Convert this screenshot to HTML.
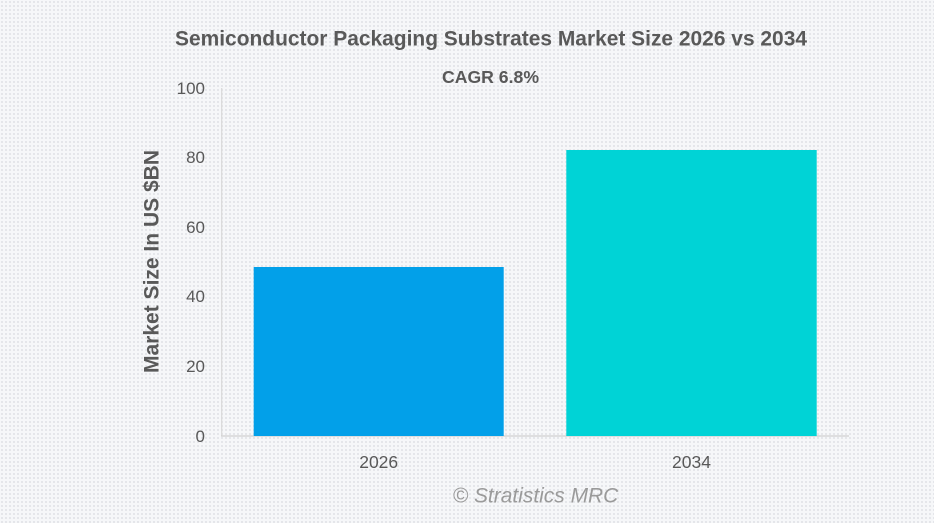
<!DOCTYPE html>
<html>
<head>
<meta charset="utf-8">
<style>
  html, body { margin: 0; padding: 0; }
  body {
    width: 934px; height: 523px; overflow: hidden;
    background-color: #f6f7f9;
    background-image: radial-gradient(circle at 2px 2px, #e3e4e8 0.9px, rgba(0,0,0,0) 1.3px);
    background-size: 4px 4px;
    font-family: "Liberation Sans", Arial, sans-serif;
  }
  svg { position: absolute; left: 0; top: 0; }
</style>
</head>
<body>
<svg width="934" height="523" viewBox="0 0 934 523" xmlns="http://www.w3.org/2000/svg">
  <!-- Title -->
  <text x="491" y="45.5" text-anchor="middle" font-family="Liberation Sans, Arial, sans-serif" font-weight="bold" font-size="21" fill="#595959" textLength="632" lengthAdjust="spacingAndGlyphs">Semiconductor Packaging Substrates Market Size 2026 vs 2034</text>
  <!-- CAGR -->
  <text x="490.5" y="83" text-anchor="middle" font-family="Liberation Sans, Arial, sans-serif" font-weight="bold" font-size="17.5" fill="#595959" textLength="97" lengthAdjust="spacingAndGlyphs">CAGR 6.8%</text>

  <!-- Axes -->
  <line x1="221.7" y1="88" x2="221.7" y2="436" stroke="#d9d9d9" stroke-width="1.2"/>
  <line x1="221" y1="436" x2="849" y2="436" stroke="#d0d0d0" stroke-width="1.2"/>

  <!-- Y tick labels -->
  <g font-family="Liberation Sans, Arial, sans-serif" font-size="17" fill="#595959" text-anchor="end">
    <text x="205" y="94">100</text>
    <text x="205" y="163">80</text>
    <text x="205" y="233">60</text>
    <text x="205" y="302">40</text>
    <text x="205" y="372">20</text>
    <text x="205" y="442">0</text>
  </g>

  <!-- Y axis title -->
  <text transform="translate(158.5,261.5) rotate(-90)" text-anchor="middle" font-family="Liberation Sans, Arial, sans-serif" font-weight="bold" font-size="21" fill="#595959" textLength="223" lengthAdjust="spacingAndGlyphs">Market Size In US $BN</text>

  <!-- Bars -->
  <rect x="253.7" y="267" width="250" height="169" fill="#02a0e9"/>
  <rect x="566.3" y="150" width="250.4" height="286" fill="#00d3d6"/>

  <!-- X labels -->
  <g font-family="Liberation Sans, Arial, sans-serif" font-size="17.5" fill="#595959" text-anchor="middle">
    <text x="378.7" y="468">2026</text>
    <text x="691.5" y="468">2034</text>
  </g>

  <!-- Watermark -->
  <text x="535.5" y="502.7" text-anchor="middle" font-family="Liberation Sans, Arial, sans-serif" font-style="italic" font-size="21" fill="#9a9a9a" textLength="165.6" lengthAdjust="spacingAndGlyphs">© Stratistics MRC</text>
</svg>
</body>
</html>
